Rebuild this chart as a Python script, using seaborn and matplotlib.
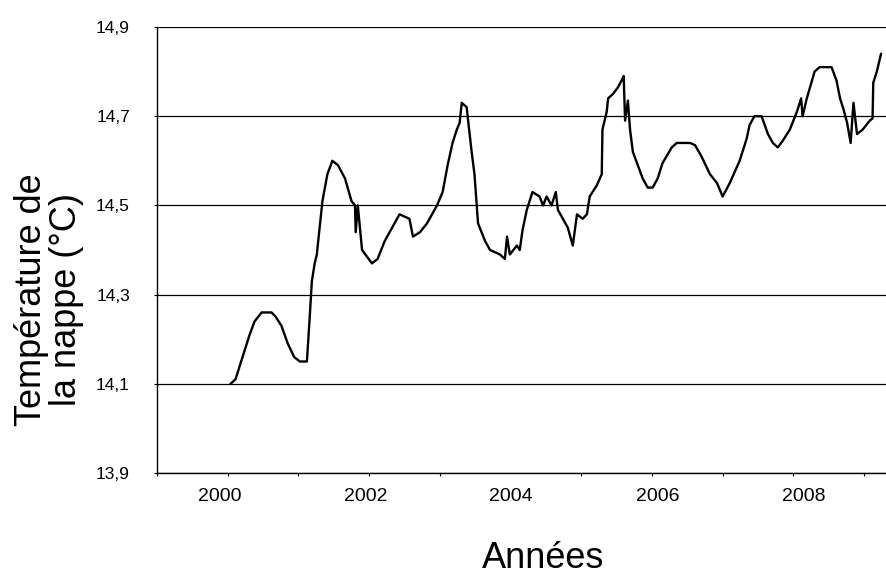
import numpy as np
import pandas as pd
import matplotlib
matplotlib.use("Agg")
import matplotlib.pyplot as plt
import seaborn as sns
from matplotlib.ticker import FuncFormatter, FixedLocator

# ---- data ----
years = [2000.04, 2000.11, 2000.17, 2000.31, 2000.38, 2000.48, 2000.62, 2000.68, 2000.76, 2000.85,
         2000.94, 2001.02, 2001.12, 2001.16, 2001.19, 2001.23, 2001.26, 2001.30, 2001.34, 2001.41,
         2001.48, 2001.56, 2001.66, 2001.75, 2001.80, 2001.81, 2001.84, 2001.90, 2002.04, 2002.12,
         2002.22, 2002.36, 2002.43, 2002.57, 2002.62, 2002.72, 2002.82, 2002.96, 2003.04, 2003.11,
         2003.18, 2003.24, 2003.28, 2003.31, 2003.38, 2003.40, 2003.45, 2003.49, 2003.54, 2003.64,
         2003.71, 2003.85, 2003.92, 2003.95, 2003.99, 2004.09, 2004.13, 2004.17, 2004.23, 2004.31,
         2004.41, 2004.46, 2004.51, 2004.58, 2004.64, 2004.67, 2004.74, 2004.81, 2004.88, 2004.94,
         2005.02, 2005.08, 2005.12, 2005.22, 2005.29, 2005.30, 2005.36, 2005.38, 2005.45, 2005.52,
         2005.57, 2005.60, 2005.62, 2005.66, 2005.69, 2005.73, 2005.80, 2005.87, 2005.94, 2006.01,
         2006.08, 2006.15, 2006.28, 2006.35, 2006.54, 2006.61, 2006.70, 2006.82, 2006.92, 2007.00,
         2007.10, 2007.24, 2007.34, 2007.38, 2007.45, 2007.55, 2007.64, 2007.71, 2007.78, 2007.85,
         2007.95, 2008.05, 2008.11, 2008.13, 2008.19, 2008.30, 2008.37, 2008.54, 2008.61, 2008.66,
         2008.71, 2008.76, 2008.81, 2008.85, 2008.90, 2008.98, 2009.08, 2009.12, 2009.13, 2009.18,
         2009.24]
temps = [14.10, 14.11, 14.14, 14.21, 14.24, 14.26, 14.26, 14.25, 14.23, 14.19,
         14.16, 14.15, 14.15, 14.25, 14.33, 14.37, 14.39, 14.45, 14.51, 14.57,
         14.60, 14.59, 14.56, 14.51, 14.50, 14.44, 14.50, 14.40, 14.37, 14.38,
         14.42, 14.46, 14.48, 14.47, 14.43, 14.44, 14.46, 14.50, 14.53, 14.59,
         14.64, 14.67, 14.685, 14.73, 14.72, 14.69, 14.62, 14.57, 14.46, 14.42,
         14.40, 14.39, 14.38, 14.43, 14.39, 14.41, 14.40, 14.445, 14.49, 14.53,
         14.52, 14.50, 14.52, 14.50, 14.53, 14.49, 14.47, 14.45, 14.41, 14.48,
         14.47, 14.48, 14.52, 14.545, 14.57, 14.67, 14.71, 14.74, 14.75, 14.765,
         14.78, 14.79, 14.69, 14.735, 14.67, 14.62, 14.59, 14.56, 14.54, 14.54,
         14.56, 14.595, 14.63, 14.64, 14.64, 14.635, 14.61, 14.57, 14.55, 14.52,
         14.55, 14.60, 14.65, 14.68, 14.70, 14.70, 14.66, 14.64, 14.63, 14.645,
         14.67, 14.71, 14.74, 14.70, 14.74, 14.80, 14.81, 14.81, 14.78, 14.74,
         14.715, 14.685, 14.64, 14.73, 14.66, 14.67, 14.69, 14.695, 14.775, 14.80,
         14.84]

ytick_values = [13.9, 14.1, 14.3, 14.5, 14.7, 14.9]
year_ticks = list(range(1999, 2010))
xtick_labels = ["2000", "2002", "2004", "2006", "2008"]
xtick_label_pos = [1999.89, 2001.95, 2004.00, 2006.08, 2008.15]

# ---- style ----
sns.set_theme(style="white")
plt.rcParams["font.family"] = ["Liberation Sans", "DejaVu Sans"]

fig = plt.figure(figsize=(8.86, 5.76), dpi=100)
ax = fig.add_axes([157 / 886, 103 / 576, 729 / 886, 446 / 576])

df = pd.DataFrame({"annee": years, "temp": temps})
sns.lineplot(data=df, x="annee", y="temp", ax=ax, color="black",
             linewidth=1.7, estimator=None, sort=False)

ax.set_xlim(1999.0, 2009.31)
ax.set_ylim(13.9, 14.9)

for s in ["top", "right"]:
    ax.spines[s].set_visible(False)
for s in ["left", "bottom"]:
    ax.spines[s].set_visible(True)
    ax.spines[s].set_color("black")
    ax.spines[s].set_linewidth(1.0)

ax.set_yticks(ytick_values)
ax.yaxis.set_major_formatter(FuncFormatter(lambda v, p: f"{v:.1f}".replace(".", ",")))
ax.tick_params(axis="y", which="major", left=True, direction="out", length=2.5,
               width=0.8, color="black", pad=17, labelsize=12.5, labelcolor="black")
ax.grid(axis="y", color="black", linewidth=0.9)
ax.grid(axis="x", visible=False)
ax.set_axisbelow(True)

ax.set_xticks(xtick_label_pos)
ax.set_xticklabels(xtick_labels)
ax.xaxis.set_minor_locator(FixedLocator(year_ticks))
ax.tick_params(axis="x", which="major", bottom=False, length=0, pad=11,
               labelsize=14, labelcolor="black")
ax.tick_params(axis="x", which="minor", bottom=True, direction="out", length=2.5,
               width=0.8, color="black")

ax.set_xlabel("")
ax.set_ylabel("")

fig.text(49 / 886, 1 - 300 / 576, "Température de\nla nappe (°C)", rotation=90,
         ha="center", va="center", multialignment="center", fontsize=26,
         linespacing=1.0, color="black")
fig.text(543 / 886, 1 - 558 / 576, "Années", ha="center", va="center",
         fontsize=26, color="black")

fig.savefig("out.png", dpi=100)
